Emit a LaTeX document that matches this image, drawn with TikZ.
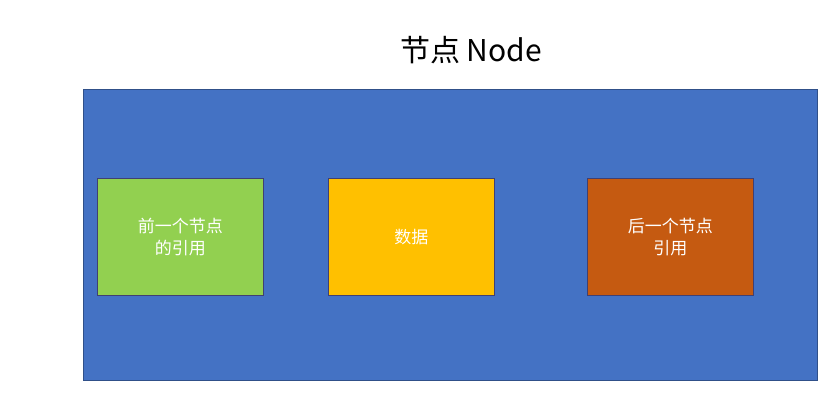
\documentclass[tikz,border=0pt]{standalone}
\usepackage{fontspec}
\setmainfont{Noto Sans CJK SC}
\begin{document}
\begin{tikzpicture}[x=1pt,y=-1pt,
  box/.style={draw=black!60!blue!50!gray,line width=0.6pt,text=white,font=\fontsize{17}{22}\selectfont,align=center}]
\useasboundingbox (0,0) rectangle (839,410);
\definecolor{bl}{HTML}{4472C4}
\definecolor{gr}{HTML}{92D050}
\definecolor{ye}{HTML}{FFC000}
\definecolor{or}{HTML}{C55A11}
\node[font=\fontsize{30}{36}\selectfont] (title) at (471,50) {节点 Node};
\node[box,fill=bl,draw=bl!70!black,minimum width=734pt,minimum height=291pt,anchor=north west] (outer) at (83,89) {};
\node[box,fill=gr,minimum width=166pt,minimum height=117pt,anchor=north west] (prev) at (97,178) {前一个节点\\的引用};
\node[box,fill=ye,minimum width=166pt,minimum height=117pt,anchor=north west] (data) at (328,178) {数据};
\node[box,fill=or,minimum width=166pt,minimum height=117pt,anchor=north west] (next) at (587,178) {后一个节点\\引用};
\end{tikzpicture}
\end{document}
